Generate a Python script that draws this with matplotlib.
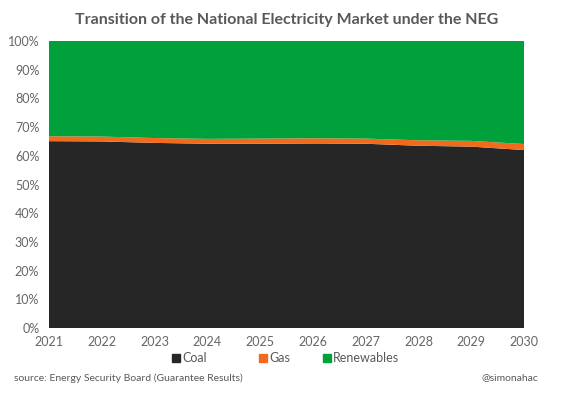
import matplotlib
matplotlib.use("Agg")
import matplotlib.pyplot as plt
from matplotlib.ticker import FuncFormatter

years = [2021, 2022, 2023, 2024, 2025, 2026, 2027, 2028, 2029, 2030]
coal = [65.1, 65.0, 64.5, 64.2, 64.2, 64.3, 64.2, 63.5, 63.2, 62.0]
gas = [1.7, 1.7, 1.7, 1.7, 1.8, 1.8, 1.8, 1.9, 2.0, 2.1]
renewables = [100 - c - g for c, g in zip(coal, gas)]

labels = ["Coal", "Gas", "Renewables"]
colors = ["#262626", "#F26B1D", "#00A03A"]
legend_x = [172, 259, 323]

plt.rcParams['font.family'] = ['Lato', 'DejaVu Sans']

fig = plt.figure(figsize=(5.74, 3.99), dpi=100)
ax = fig.add_axes([49/574, 1 - 328/399, (524-49)/574, (328-41)/399])
ax.stackplot(years, coal, gas, renewables, colors=colors, labels=labels, linewidth=0)
ax.set_xlim(2021, 2030)
ax.set_ylim(0, 100)
ax.set_yticks(range(0, 101, 10))
ax.yaxis.set_major_formatter(FuncFormatter(lambda v, p: f"{int(v)}%"))
ax.set_xticks(years)
for s in ax.spines.values():
    s.set_visible(False)
ax.tick_params(axis='both', length=0, labelsize=9, colors="#666666")
ax.tick_params(axis='y', pad=7)
ax.tick_params(axis='x', pad=6)

fig.text(0.5, 1 - 20/399, "Transition of the National Electricity Market under the NEG",
         ha='center', va='center', fontsize=11.5, fontweight='bold', color="#595959")

for lab, col, lx in zip(labels, colors, legend_x):
    h = plt.Rectangle((0, 0), 1, 1, color=col)
    fig.legend([h], [lab], loc='center left', bbox_to_anchor=(lx/574, 1 - 358/399),
               frameon=False, fontsize=9, handlelength=0.6, handleheight=0.6,
               handletextpad=0.2, borderpad=0, borderaxespad=0, labelcolor="#595959")

fig.text(14/574, 1 - 378/399, "source: Energy Security Board (Guarantee Results)",
         ha='left', va='center', fontsize=7.5, color="#595959")
fig.text(538/574, 1 - 378/399, "@simonahac", ha='right', va='center',
         fontsize=7.5, color="#595959")

fig.savefig("out.png", dpi=100)
